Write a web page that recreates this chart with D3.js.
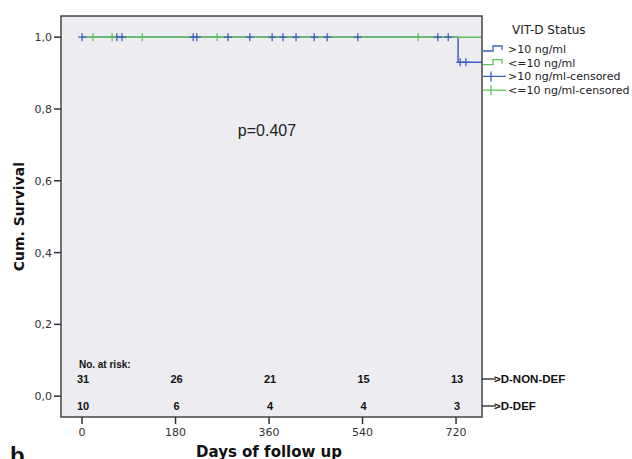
<!DOCTYPE html>
<html>
<head>
<meta charset="utf-8">
<script src="https://cdn.jsdelivr.net/npm/d3@7"></script>
<style>
  body { margin: 0; background: #fff; }
  svg { display: block; }
</style>
</head>
<body>
<div id="chart"></div>
<script>
// censored times (days)
const blueCensored = [0, 67, 77, 214, 221, 281, 323, 366, 387, 412, 447, 472, 531, 685, 705];
const blueCensoredAfter = [728, 739];
const greenCensored = [21, 58, 116, 260, 647];
const blueEvents = [{ day: 724, surv: 0.93 }];
const xTicks = [0, 180, 360, 540, 720];
const yTicks = [0, 0.2, 0.4, 0.6, 0.8, 1.0];
const riskNonDef = [31, 26, 21, 15, 13];
const riskDef = [10, 6, 4, 4, 3];
const legendItems = ['>10 ng/ml', '<=10 ng/ml', '>10 ng/ml-censored', '<=10 ng/ml-censored'];

const blue = '#3f5fbf';
const green = '#5cc45a';

const width = 632, height = 459;
const margin = { top: 16, left: 61, right: 150, bottom: 42 };
const plotW = width - margin.left - margin.right;
const plotH = height - margin.top - margin.bottom;

const svg = d3.select('#chart')
  .append('svg')
  .attr('width', width)
  .attr('height', height);

const x = d3.scaleLinear().domain([-40.5, 770]).range([0, plotW]);
const y = d3.scaleLinear().domain([-0.058, 1.059]).range([plotH, 0]);

const g = svg.append('g')
  .attr('transform', `translate(${margin.left},${margin.top})`);

g.append('rect')
  .attr('width', plotW)
  .attr('height', plotH)
  .attr('fill', '#edecf1');

// step curves
const greenLine = [[0, 1], [770, 1]];
const blueSteps = [[0, 1]];
blueEvents.forEach((e) => {
  blueSteps.push([e.day, blueSteps[blueSteps.length - 1][1]]);
  blueSteps.push([e.day, e.surv]);
});
blueSteps.push([770, blueEvents[blueEvents.length - 1].surv]);

const line = d3.line().x((d) => x(d[0])).y((d) => y(d[1]));

g.append('path')
  .attr('d', line(blueSteps))
  .attr('fill', 'none')
  .attr('stroke', blue)
  .attr('stroke-width', 1.5);

g.append('path')
  .attr('d', line(greenLine))
  .attr('fill', 'none')
  .attr('stroke', green)
  .attr('stroke-width', 1.5);

function censorMarks(data, surv, color) {
  g.selectAll(null)
    .data(data)
    .enter()
    .append('path')
    .attr('d', (d) => `M${x(d) - 4},${y(surv)}H${x(d) + 4}M${x(d)},${y(surv) - 4}V${y(surv) + 4}`)
    .attr('stroke', color)
    .attr('stroke-width', 1.3);
}
censorMarks(blueCensored, 1, blue);
censorMarks(greenCensored, 1, green);
censorMarks(blueCensoredAfter, blueEvents[0].surv, blue);

// frame
g.append('rect')
  .attr('width', plotW)
  .attr('height', plotH)
  .attr('fill', 'none')
  .attr('stroke', '#444')
  .attr('stroke-width', 1.5);

// y axis
const yAxis = g.append('g');
yAxis.selectAll('line')
  .data(yTicks)
  .enter()
  .append('line')
  .attr('x1', -7).attr('x2', 0)
  .attr('y1', (d) => y(d)).attr('y2', (d) => y(d))
  .attr('stroke', '#333')
  .attr('stroke-width', 1.5);
yAxis.selectAll('text')
  .data(yTicks)
  .enter()
  .append('text')
  .attr('x', -9)
  .attr('y', (d) => y(d) + 4)
  .attr('text-anchor', 'end')
  .attr('font-family', 'DejaVu Sans')
  .attr('font-size', 11)
  .attr('fill', '#333')
  .text((d) => d.toFixed(1).replace('.', ','));

// x axis
const xAxis = g.append('g').attr('transform', `translate(0,${plotH})`);
xAxis.selectAll('line')
  .data(xTicks)
  .enter()
  .append('line')
  .attr('x1', (d) => x(d)).attr('x2', (d) => x(d))
  .attr('y1', 0).attr('y2', 7)
  .attr('stroke', '#333')
  .attr('stroke-width', 1.5);
xAxis.selectAll('text')
  .data(xTicks)
  .enter()
  .append('text')
  .attr('x', (d) => x(d))
  .attr('y', 19)
  .attr('text-anchor', 'middle')
  .attr('font-family', 'DejaVu Sans')
  .attr('font-size', 11)
  .attr('fill', '#333')
  .text((d) => d);

// axis titles
svg.append('text')
  .attr('x', margin.left + x(360))
  .attr('y', 457)
  .attr('text-anchor', 'middle')
  .attr('font-family', 'DejaVu Sans')
  .attr('font-weight', 'bold')
  .attr('font-size', 15)
  .attr('fill', '#111')
  .text('Days of follow up');

svg.append('text')
  .attr('transform', `translate(24,${margin.top + y(0.5)}) rotate(-90)`)
  .attr('text-anchor', 'middle')
  .attr('font-family', 'DejaVu Sans')
  .attr('font-weight', 'bold')
  .attr('font-size', 14)
  .attr('fill', '#111')
  .text('Cum. Survival');

svg.append('text')
  .attr('x', 10)
  .attr('y', 464)
  .attr('font-family', 'Liberation Sans')
  .attr('font-weight', 'bold')
  .attr('font-size', 24)
  .attr('fill', '#111')
  .text('b');

// p-value
g.append('text')
  .attr('x', x(300))
  .attr('y', y(0.726))
  .attr('font-family', 'Liberation Sans')
  .attr('font-size', 16)
  .attr('fill', '#222')
  .text('p=0.407');

// number at risk
g.append('text')
  .attr('x', x(-6))
  .attr('y', 352)
  .attr('font-family', 'Liberation Sans')
  .attr('font-weight', 'bold')
  .attr('font-size', 10)
  .attr('fill', '#111')
  .text('No. at risk:');

const rows = [
  { vals: riskNonDef, label: '>D-NON-DEF', yPos: 367 },
  { vals: riskDef, label: '>D-DEF', yPos: 394 }
];
rows.forEach((r) => {
  g.selectAll(null)
    .data(r.vals)
    .enter()
    .append('text')
    .attr('x', (d, i) => x(xTicks[i]) + 1)
    .attr('y', r.yPos)
    .attr('text-anchor', 'middle')
    .attr('font-family', 'Liberation Sans')
    .attr('font-weight', 'bold')
    .attr('font-size', 11)
    .attr('fill', '#111')
    .text((d) => d);
  g.append('line')
    .attr('x1', plotW).attr('x2', plotW + 14)
    .attr('y1', r.yPos - 4).attr('y2', r.yPos - 4)
    .attr('stroke', '#111')
    .attr('stroke-width', 1.2);
  g.append('text')
    .attr('x', plotW + 12)
    .attr('y', r.yPos)
    .attr('font-family', 'Liberation Sans')
    .attr('font-weight', 'bold')
    .attr('font-size', 11.5)
    .attr('fill', '#111')
    .text(r.label);
});

// legend
const lx = margin.left + plotW + 1;
svg.append('text')
  .attr('x', 512)
  .attr('y', 34)
  .attr('font-family', 'DejaVu Sans')
  .attr('font-size', 12)
  .attr('fill', '#222')
  .text('VIT-D Status');

const leg = svg.selectAll('.leg')
  .data(legendItems)
  .enter()
  .append('g')
  .attr('class', 'leg')
  .attr('transform', (d, i) => `translate(${lx},${49 + i * 13.7})`);

leg.append('path')
  .attr('d', (d, i) => i < 2
    ? 'M0,2H10V-3H19V1'
    : 'M0,0H23M8,-5V5')
  .attr('fill', 'none')
  .attr('stroke', (d, i) => (i % 2 === 0 ? blue : green))
  .attr('stroke-width', 1.3);

leg.append('text')
  .attr('x', 25)
  .attr('y', 4)
  .attr('font-family', 'DejaVu Sans')
  .attr('font-size', 11)
  .attr('fill', '#222')
  .text((d) => d);
</script>
</body>
</html>
